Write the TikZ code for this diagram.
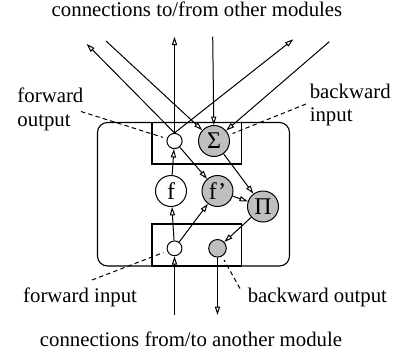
\documentclass[tikz,border=0pt]{standalone}
\usepackage{fontspec}
\setmainfont{Liberation Serif}
\usetikzlibrary{arrows.meta}
\begin{document}
\begin{tikzpicture}[x=0.5pt,y=-0.5pt,
  line width=0.5pt,
  every node/.style={font=\fontsize{10.4}{11.7}\selectfont},
  lbl/.style={inner sep=0pt,anchor=base west,align=left},
  unit/.style={circle,draw,inner sep=0pt,minimum size=#1},
  grey/.style={fill=black!25},
  big/.style={font=\fontsize{12}{12}\selectfont},
  arr/.style={-{Triangle[open,length=4.2pt,width=2.6pt]}},
  leader/.style={dash pattern=on 2.2pt off 1.6pt,shorten >=2pt},
  frame/.style={draw,line width=0.55pt}]
  \useasboundingbox (0,0) rectangle (395,354);

  % module outline and the two port boxes
  \draw[frame,rounded corners=5pt] (97.5,122.5) rectangle (289.5,266);
  \draw[frame] (152,122.5) rectangle (241.5,164);
  \draw[frame] (152,224) rectangle (241.5,266);

  % units
  \node[unit=7.6pt] (fo) at (174.5,141) {};
  \node[unit=15.5pt,grey,big] (S) at (214,141) {Σ};
  \node[unit=15.5pt,big] (f) at (171,191) {f};
  \node[unit=15.5pt,grey,big] (fp) at (217.5,191) {f’};
  \node[unit=15.5pt,grey,big] (P) at (263,206.5) {Π};
  \node[unit=7.4pt] (fi) at (174.5,248.3) {};
  \node[unit=8.8pt,grey] (bo) at (217.5,248.3) {};

  % free ends of the external connections
  \coordinate (o1) at (86.7,44);
  \coordinate (o2) at (174.5,36.7);
  \coordinate (o3) at (293.3,39.3);
  \coordinate (i1) at (106,41);
  \coordinate (i2) at (212.7,36.7);
  \coordinate (i3) at (329.3,41.7);
  \coordinate (fin) at (174.5,315);
  \coordinate (bout) at (217.5,315);

  % external connections
  \draw[arr] (fo.north) -- (o1);
  \draw[arr] (fo.north) -- (o2);
  \draw[arr] (fo.north) -- (o3);
  \draw[arr] (i1) -- (S);
  \draw[arr] (i2) -- (S);
  \draw[arr] (i3) -- (S);
  \draw[arr] (fin) -- (fi);
  \draw[arr] (bo) -- (bout);

  % internal connections
  \draw[arr] (fi) -- (f);
  \draw[arr] (fi) -- (fp);
  \draw[arr] (f) -- (fo);
  \draw[arr] (fo) -- (fp);
  \draw[arr] (S) -- (P);
  \draw[arr] (fp) -- (P);
  \draw[arr] (P) -- (bo);

  % labels (multi-line labels are anchored at the baseline of their last line)
  \node[lbl,anchor=base] (top) at (197,16) {connections to/from other modules};
  \node[lbl,anchor=base] (bot) at (191,346) {connections from/to another module};
  \node[lbl] (lfo) at (17,126) {forward\\output};
  \node[lbl] (lbi) at (309.3,121.7) {backward\\input};
  \node[lbl] (lfi) at (22.7,302.7) {forward input};
  \node[lbl] (lbo) at (247.3,302.7) {backward output};

  % leader lines
  \coordinate (dfo) at (81,111.5);
  \coordinate (dbi) at (306,104);
  \coordinate (dfi) at (92,280);
  \coordinate (dbo) at (240,288.5);
  \draw[leader] (dfo) -- (fo);
  \draw[leader] (dbi) -- (S);
  \draw[leader] (dfi) -- (fi);
  \draw[leader] (dbo) -- (bo);
\end{tikzpicture}
\end{document}
